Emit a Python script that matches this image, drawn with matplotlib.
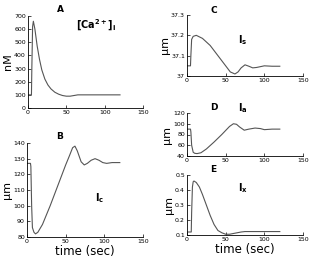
import matplotlib
matplotlib.use("Agg")
from matplotlib import pyplot as plt

plt.rcParams['mathtext.fontset'] = 'dejavusans'

# panel A: [Ca2+]i (nM)
t_ca = [0, 4.5, 5, 6, 7, 9, 12, 15, 18, 22, 26, 30, 35, 40, 45, 50, 55, 60, 65, 70, 80, 90, 100, 110, 120]
ca = [100, 100, 300, 620, 660, 600, 470, 370, 290, 220, 175, 145, 120, 105, 95, 90, 90, 95, 100, 100, 100, 100, 100, 100, 100]

# panel B: Ic (um)
t_c = [0, 4.5, 5, 6, 7, 9, 11, 14, 20, 30, 40, 50, 55, 59, 62, 65, 70, 74, 78, 83, 88, 93, 98, 103, 110, 120]
lc = [127, 127, 125, 100, 86, 83, 82, 83, 88, 100, 113, 126, 132, 137, 138, 135, 128, 126, 127, 129, 130, 129, 127.5, 127, 127.5, 127.5]

# panel C: Is (um)
t_s = [0, 4.5, 5, 6, 8, 12, 20, 30, 40, 50, 56, 62, 66, 70, 75, 80, 85, 90, 100, 110, 120]
ls = [37.05, 37.05, 37.1, 37.18, 37.195, 37.2, 37.185, 37.15, 37.1, 37.05, 37.02, 37.01, 37.02, 37.04, 37.055, 37.048, 37.04, 37.042, 37.05, 37.048, 37.048]

# panel D: Ia (um)
t_a = [0, 4.5, 5, 6, 8, 10, 13, 18, 25, 35, 45, 55, 60, 64, 68, 74, 80, 88, 95, 100, 110, 120]
la = [90, 90, 85, 60, 47, 45, 44.5, 46, 53, 66, 80, 95, 100, 99, 94, 88, 90, 92, 91, 89, 90, 90]

# panel E: Ix (um)
t_x = [0, 5.5, 6, 7, 8, 9, 12, 16, 20, 25, 30, 35, 40, 45, 50, 55, 60, 65, 70, 75, 90, 105, 120]
lx = [0.12, 0.12, 0.25, 0.42, 0.455, 0.46, 0.45, 0.42, 0.37, 0.3, 0.23, 0.17, 0.13, 0.115, 0.105, 0.105, 0.11, 0.115, 0.12, 0.123, 0.123, 0.123, 0.123]

W, H = 313, 257
fig = plt.figure(figsize=(W / 100, H / 100), dpi=100)


def make_ax(x0, x1, ytop, ybot):
    ax = fig.add_axes([x0 / W, 1 - ybot / H, (x1 - x0) / W, (ybot - ytop) / H])
    ax.spines['top'].set_visible(False)
    ax.spines['right'].set_visible(False)
    ax.spines['left'].set_linewidth(0.6)
    ax.spines['bottom'].set_linewidth(0.6)
    ax.tick_params(direction='in', length=2, width=0.5, labelsize=4.5, pad=1.5)
    ax.set_xlim(0, 150)
    ax.set_xticks([0, 50, 100, 150])
    return ax


lc_kw = dict(color='#555555', lw=0.8)

axA = make_ax(28, 143, 16, 108)
axA.plot(t_ca, ca, **lc_kw)
axA.set_ylim(0, 700)
axA.set_yticks(range(0, 701, 100))
axA.set_ylabel('nM', fontsize=8, labelpad=1)
axA.text(0.25, 1.04, 'A', transform=axA.transAxes, fontsize=6.5, fontweight='bold')
axA.text(62, 600, r'$\mathbf{[Ca^{2+}]_i}$', fontsize=7)

axB = make_ax(27, 143, 143, 237)
axB.plot(t_c, lc, **lc_kw)
axB.set_ylim(80, 140)
axB.set_yticks(range(80, 141, 10))
axB.set_ylabel('µm', fontsize=8, labelpad=1)
axB.set_xlabel('time (sec)', fontsize=8.5, labelpad=1)
axB.text(0.25, 1.04, 'B', transform=axB.transAxes, fontsize=6.5, fontweight='bold')
axB.text(88, 103, r'$\mathbf{I_c}$', fontsize=7)

axC = make_ax(187, 303, 15, 76)
axC.plot(t_s, ls, **lc_kw)
axC.set_ylim(37, 37.3)
axC.set_yticks([37, 37.1, 37.2, 37.3])
axC.set_yticklabels(['37', '37.1', '37.2', '37.3'])
axC.set_ylabel('µm', fontsize=8, labelpad=1)
axC.text(0.2, 1.04, 'C', transform=axC.transAxes, fontsize=6.5, fontweight='bold')
axC.text(66, 37.16, r'$\mathbf{I_s}$', fontsize=7)

axD = make_ax(187, 303, 113, 156)
axD.plot(t_a, la, **lc_kw)
axD.set_ylim(40, 120)
axD.set_yticks(range(40, 121, 20))
axD.set_ylabel('µm', fontsize=8, labelpad=1)
axD.text(0.2, 1.07, 'D', transform=axD.transAxes, fontsize=6.5, fontweight='bold')
axD.text(66, 124, r'$\mathbf{I_a}$', fontsize=7, clip_on=False)

axE = make_ax(187, 303, 175, 235)
axE.plot(t_x, lx, **lc_kw)
axE.set_ylim(0.1, 0.5)
axE.set_yticks([0.1, 0.2, 0.3, 0.4, 0.5])
axE.set_ylabel('µm', fontsize=8, labelpad=1)
axE.set_xlabel('time (sec)', fontsize=8.5, labelpad=1)
axE.text(0.2, 1.05, 'E', transform=axE.transAxes, fontsize=6.5, fontweight='bold')
axE.text(66, 0.39, r'$\mathbf{I_x}$', fontsize=7)

fig.savefig('out.png', dpi=100)
